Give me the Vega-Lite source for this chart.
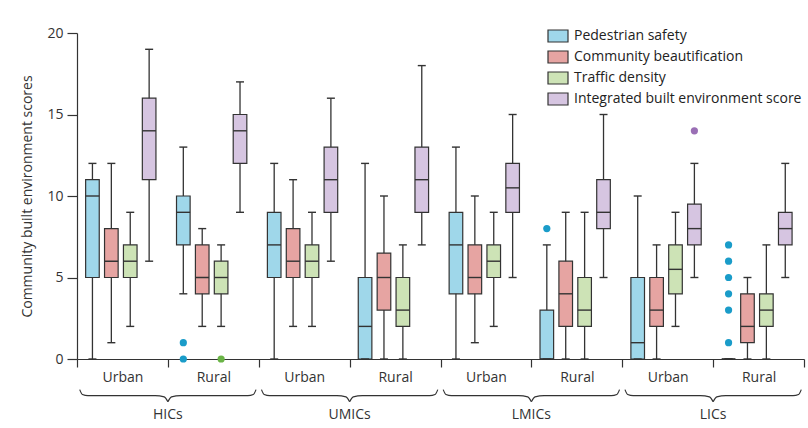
{
  "$schema": "https://vega.github.io/schema/vega-lite/v6.json",
  "width": 727,
  "height": 326,
  "autosize": {"type": "none"},
  "padding": {"left": 77, "top": 33, "right": 4, "bottom": 69},
  "background": "white",
  "config": {
    "font": "Open Sans",
    "view": {"stroke": null},
    "axis": {"grid": false, "domainColor": "#333333", "tickColor": "#333333", "labelColor": "#333333", "titleColor": "#333333", "labelFontSize": 14, "titleFontSize": 14, "titleFontWeight": "normal", "domainWidth": 1.2, "tickWidth": 1.2},
    "axisY": {"tickSize": 10, "labelPadding": 4, "titlePadding": 12},
    "axisX": {"tickSize": 8, "labelPadding": 3, "labelAngle": 0}
  },
  "datasets": {
    "boxes": [
      {"cat": "HICs|Urban", "m": "Pedestrian safety", "lo": 0, "q1": 5, "med": 10, "q3": 11, "hi": 12},
      {"cat": "HICs|Urban", "m": "Community beautification", "lo": 1, "q1": 5, "med": 6, "q3": 8, "hi": 12},
      {"cat": "HICs|Urban", "m": "Traffic density", "lo": 2, "q1": 5, "med": 6, "q3": 7, "hi": 9},
      {"cat": "HICs|Urban", "m": "Integrated built environment score", "lo": 6, "q1": 11, "med": 14, "q3": 16, "hi": 19},
      {"cat": "HICs|Rural", "m": "Pedestrian safety", "lo": 4, "q1": 7, "med": 9, "q3": 10, "hi": 13},
      {"cat": "HICs|Rural", "m": "Community beautification", "lo": 2, "q1": 4, "med": 5, "q3": 7, "hi": 8},
      {"cat": "HICs|Rural", "m": "Traffic density", "lo": 2, "q1": 4, "med": 5, "q3": 6, "hi": 7},
      {"cat": "HICs|Rural", "m": "Integrated built environment score", "lo": 9, "q1": 12, "med": 14, "q3": 15, "hi": 17},
      {"cat": "UMICs|Urban", "m": "Pedestrian safety", "lo": 0, "q1": 5, "med": 7, "q3": 9, "hi": 12},
      {"cat": "UMICs|Urban", "m": "Community beautification", "lo": 2, "q1": 5, "med": 6, "q3": 8, "hi": 11},
      {"cat": "UMICs|Urban", "m": "Traffic density", "lo": 2, "q1": 5, "med": 6, "q3": 7, "hi": 9},
      {"cat": "UMICs|Urban", "m": "Integrated built environment score", "lo": 6, "q1": 9, "med": 11, "q3": 13, "hi": 16},
      {"cat": "UMICs|Rural", "m": "Pedestrian safety", "lo": 0, "q1": 0, "med": 2, "q3": 5, "hi": 12},
      {"cat": "UMICs|Rural", "m": "Community beautification", "lo": 0, "q1": 3, "med": 5, "q3": 6.5, "hi": 10},
      {"cat": "UMICs|Rural", "m": "Traffic density", "lo": 0, "q1": 2, "med": 3, "q3": 5, "hi": 7},
      {"cat": "UMICs|Rural", "m": "Integrated built environment score", "lo": 7, "q1": 9, "med": 11, "q3": 13, "hi": 18},
      {"cat": "LMICs|Urban", "m": "Pedestrian safety", "lo": 0, "q1": 4, "med": 7, "q3": 9, "hi": 13},
      {"cat": "LMICs|Urban", "m": "Community beautification", "lo": 1, "q1": 4, "med": 5, "q3": 7, "hi": 10},
      {"cat": "LMICs|Urban", "m": "Traffic density", "lo": 2, "q1": 5, "med": 6, "q3": 7, "hi": 9},
      {"cat": "LMICs|Urban", "m": "Integrated built environment score", "lo": 5, "q1": 9, "med": 10.5, "q3": 12, "hi": 15},
      {"cat": "LMICs|Rural", "m": "Pedestrian safety", "lo": 0, "q1": 0, "med": 0, "q3": 3, "hi": 7},
      {"cat": "LMICs|Rural", "m": "Community beautification", "lo": 0, "q1": 2, "med": 4, "q3": 6, "hi": 9},
      {"cat": "LMICs|Rural", "m": "Traffic density", "lo": 0, "q1": 2, "med": 3, "q3": 5, "hi": 9},
      {"cat": "LMICs|Rural", "m": "Integrated built environment score", "lo": 5, "q1": 8, "med": 9, "q3": 11, "hi": 15},
      {"cat": "LICs|Urban", "m": "Pedestrian safety", "lo": 0, "q1": 0, "med": 1, "q3": 5, "hi": 10},
      {"cat": "LICs|Urban", "m": "Community beautification", "lo": 0, "q1": 2, "med": 3, "q3": 5, "hi": 7},
      {"cat": "LICs|Urban", "m": "Traffic density", "lo": 2, "q1": 4, "med": 5.5, "q3": 7, "hi": 9},
      {"cat": "LICs|Urban", "m": "Integrated built environment score", "lo": 5, "q1": 7, "med": 8, "q3": 9.5, "hi": 12},
      {"cat": "LICs|Rural", "m": "Pedestrian safety", "lo": 0, "q1": 0, "med": 0, "q3": 0, "hi": 0},
      {"cat": "LICs|Rural", "m": "Community beautification", "lo": 0, "q1": 1, "med": 2, "q3": 4, "hi": 5},
      {"cat": "LICs|Rural", "m": "Traffic density", "lo": 0, "q1": 2, "med": 3, "q3": 4, "hi": 7},
      {"cat": "LICs|Rural", "m": "Integrated built environment score", "lo": 5, "q1": 7, "med": 8, "q3": 9, "hi": 12}
    ],
    "outliers": [
      {"cat": "HICs|Rural", "m": "Pedestrian safety", "v": 0},
      {"cat": "HICs|Rural", "m": "Pedestrian safety", "v": 1},
      {"cat": "HICs|Rural", "m": "Traffic density", "v": 0},
      {"cat": "LMICs|Rural", "m": "Pedestrian safety", "v": 8},
      {"cat": "LICs|Urban", "m": "Integrated built environment score", "v": 14},
      {"cat": "LICs|Rural", "m": "Pedestrian safety", "v": 1},
      {"cat": "LICs|Rural", "m": "Pedestrian safety", "v": 3},
      {"cat": "LICs|Rural", "m": "Pedestrian safety", "v": 4},
      {"cat": "LICs|Rural", "m": "Pedestrian safety", "v": 5},
      {"cat": "LICs|Rural", "m": "Pedestrian safety", "v": 6},
      {"cat": "LICs|Rural", "m": "Pedestrian safety", "v": 7}
    ],
    "groups": [
      {"cat": "HICs|Urban", "inc": "HICs"},
      {"cat": "UMICs|Urban", "inc": "UMICs"},
      {"cat": "LMICs|Urban", "inc": "LMICs"},
      {"cat": "LICs|Urban", "inc": "LICs"}
    ],
    "braces": [
      {"part": "0L", "bx": 0.03, "by": -1.88}, {"part": "0L", "bx": 0.06, "by": -2.18}, {"part": "0L", "bx": 0.12, "by": -2.25}, {"part": "0L", "bx": 0.86, "by": -2.25}, {"part": "0L", "bx": 0.96, "by": -2.32}, {"part": "0L", "bx": 1.0, "by": -2.62},
      {"part": "0R", "bx": 1.0, "by": -2.62}, {"part": "0R", "bx": 1.04, "by": -2.32}, {"part": "0R", "bx": 1.14, "by": -2.25}, {"part": "0R", "bx": 1.88, "by": -2.25}, {"part": "0R", "bx": 1.94, "by": -2.18}, {"part": "0R", "bx": 1.97, "by": -1.88},
      {"part": "1L", "bx": 2.03, "by": -1.88}, {"part": "1L", "bx": 2.06, "by": -2.18}, {"part": "1L", "bx": 2.12, "by": -2.25}, {"part": "1L", "bx": 2.86, "by": -2.25}, {"part": "1L", "bx": 2.96, "by": -2.32}, {"part": "1L", "bx": 3.0, "by": -2.62},
      {"part": "1R", "bx": 3.0, "by": -2.62}, {"part": "1R", "bx": 3.04, "by": -2.32}, {"part": "1R", "bx": 3.14, "by": -2.25}, {"part": "1R", "bx": 3.88, "by": -2.25}, {"part": "1R", "bx": 3.94, "by": -2.18}, {"part": "1R", "bx": 3.97, "by": -1.88},
      {"part": "2L", "bx": 4.03, "by": -1.88}, {"part": "2L", "bx": 4.06, "by": -2.18}, {"part": "2L", "bx": 4.12, "by": -2.25}, {"part": "2L", "bx": 4.86, "by": -2.25}, {"part": "2L", "bx": 4.96, "by": -2.32}, {"part": "2L", "bx": 5.0, "by": -2.62},
      {"part": "2R", "bx": 5.0, "by": -2.62}, {"part": "2R", "bx": 5.04, "by": -2.32}, {"part": "2R", "bx": 5.14, "by": -2.25}, {"part": "2R", "bx": 5.88, "by": -2.25}, {"part": "2R", "bx": 5.94, "by": -2.18}, {"part": "2R", "bx": 5.97, "by": -1.88},
      {"part": "3L", "bx": 6.03, "by": -1.88}, {"part": "3L", "bx": 6.06, "by": -2.18}, {"part": "3L", "bx": 6.12, "by": -2.25}, {"part": "3L", "bx": 6.86, "by": -2.25}, {"part": "3L", "bx": 6.96, "by": -2.32}, {"part": "3L", "bx": 7.0, "by": -2.62},
      {"part": "3R", "bx": 7.0, "by": -2.62}, {"part": "3R", "bx": 7.04, "by": -2.32}, {"part": "3R", "bx": 7.14, "by": -2.25}, {"part": "3R", "bx": 7.88, "by": -2.25}, {"part": "3R", "bx": 7.94, "by": -2.18}, {"part": "3R", "bx": 7.97, "by": -1.88}
    ]
  },
  "layer": [
    {
      "layer": [
        {
          "encoding": {
            "x": {"field": "cat", "type": "nominal", "title": null,
                  "scale": {"domain": ["HICs|Urban", "HICs|Rural", "UMICs|Urban", "UMICs|Rural", "LMICs|Urban", "LMICs|Rural", "LICs|Urban", "LICs|Rural"], "paddingInner": 0, "paddingOuter": 0},
                  "axis": {"labelExpr": "split(datum.label, '|')[1]", "tickBand": "extent"}},
            "xOffset": {"field": "m", "type": "nominal",
                        "scale": {"domain": ["Pedestrian safety", "Community beautification", "Traffic density", "Integrated built environment score"], "paddingInner": 0.28, "paddingOuter": 0.544, "align": 0.42}}
          },
          "layer": [
            {
              "data": {"name": "boxes"},
              "mark": {"type": "rule", "color": "#333333", "strokeWidth": 1.3},
              "encoding": {
                "y": {"field": "lo", "type": "quantitative", "scale": {"domain": [0, 20], "nice": false, "zero": false}, "title": "Community built environment scores", "axis": {"values": [0, 5, 10, 15, 20]}},
                "y2": {"field": "hi"}
              }
            },
            {
              "data": {"name": "boxes"},
              "mark": {"type": "bar", "stroke": "#333333", "strokeWidth": 1.2},
              "encoding": {
                "y": {"field": "q1", "type": "quantitative", "scale": {"domain": [0, 20], "nice": false, "zero": false}, "title": "Community built environment scores", "axis": {"values": [0, 5, 10, 15, 20]}},
                "y2": {"field": "q3"},
                "fill": {"field": "m", "type": "nominal",
                         "scale": {"domain": ["Pedestrian safety", "Community beautification", "Traffic density", "Integrated built environment score"], "range": ["#9fd7ea", "#e6a4a2", "#cde3b6", "#d6c5e1"]},
                         "legend": {"title": null, "orient": "none", "legendX": 470, "legendY": -8, "padding": 0, "symbolType": "M-1,-0.6H1V0.6H-1Z", "symbolSize": 400, "symbolStrokeColor": "#333333", "symbolStrokeWidth": 1.2, "symbolOpacity": 1, "labelFontSize": 14, "labelColor": "#222222", "labelOffset": 5, "rowPadding": 1, "labelLimit": 400}}
              }
            },
            {
              "data": {"name": "boxes"},
              "mark": {"type": "tick", "color": "#333333", "thickness": 1.4, "size": 13.6, "opacity": 1},
              "encoding": {
                "y": {"field": "med", "type": "quantitative", "scale": {"domain": [0, 20], "nice": false, "zero": false}, "title": "Community built environment scores", "axis": {"values": [0, 5, 10, 15, 20]}}
              }
            },
            {
              "data": {"name": "boxes"},
              "mark": {"type": "tick", "color": "#333333", "thickness": 1.4, "size": 8, "opacity": 1},
              "encoding": {
                "y": {"field": "lo", "type": "quantitative", "scale": {"domain": [0, 20], "nice": false, "zero": false}, "title": "Community built environment scores", "axis": {"values": [0, 5, 10, 15, 20]}}
              }
            },
            {
              "data": {"name": "boxes"},
              "mark": {"type": "tick", "color": "#333333", "thickness": 1.4, "size": 8, "opacity": 1},
              "encoding": {
                "y": {"field": "hi", "type": "quantitative", "scale": {"domain": [0, 20], "nice": false, "zero": false}, "title": "Community built environment scores", "axis": {"values": [0, 5, 10, 15, 20]}}
              }
            },
            {
              "data": {"name": "outliers"},
              "mark": {"type": "point", "filled": true, "size": 52, "opacity": 1},
              "encoding": {
                "y": {"field": "v", "type": "quantitative", "scale": {"domain": [0, 20], "nice": false, "zero": false}, "title": "Community built environment scores", "axis": {"values": [0, 5, 10, 15, 20]}},
                "color": {"field": "m", "type": "nominal",
                          "scale": {"domain": ["Pedestrian safety", "Community beautification", "Traffic density", "Integrated built environment score"], "range": ["#1a9cc9", "#e07b78", "#6ab446", "#9a6fb5"]},
                          "legend": null}
              }
            }
          ]
        },
        {
          "data": {"name": "groups"},
          "mark": {"type": "text", "fontSize": 14, "color": "#333333", "baseline": "middle", "align": "center"},
          "encoding": {
            "x": {"field": "cat", "type": "nominal", "title": null, "bandPosition": 1,
                  "scale": {"domain": ["HICs|Urban", "HICs|Rural", "UMICs|Urban", "UMICs|Rural", "LMICs|Urban", "LMICs|Rural", "LICs|Urban", "LICs|Rural"], "paddingInner": 0, "paddingOuter": 0}},
            "y": {"datum": -3.44, "type": "quantitative", "scale": {"domain": [0, 20], "nice": false, "zero": false}, "title": "Community built environment scores", "axis": {"values": [0, 5, 10, 15, 20]}},
            "text": {"field": "inc"}
          }
        }
      ]
    },
    {
      "layer": [
        {
          "data": {"name": "braces"},
          "mark": {"type": "line", "color": "#333333", "strokeWidth": 1.2, "interpolate": "monotone"},
          "encoding": {
            "x": {"field": "bx", "type": "quantitative", "scale": {"domain": [0, 8], "nice": false, "zero": false}, "axis": null},
            "y": {"field": "by", "type": "quantitative", "scale": {"domain": [0, 20], "nice": false, "zero": false}, "title": "Community built environment scores", "axis": {"values": [0, 5, 10, 15, 20]}},
            "detail": {"field": "part"}
          }
        },
        {
          "mark": {"type": "rule", "color": "#d43f6c", "strokeWidth": 1.2},
          "encoding": {
            "x": {"datum": -0.77, "type": "quantitative", "scale": {"domain": [0, 8], "nice": false, "zero": false}, "axis": null},
            "x2": {"datum": 8.2},
            "y": {"datum": 21.17, "type": "quantitative", "scale": {"domain": [0, 20], "nice": false, "zero": false}, "title": "Community built environment scores", "axis": {"values": [0, 5, 10, 15, 20]}}
          }
        },
        {
          "mark": {"type": "rule", "color": "#d43f6c", "strokeWidth": 1.2},
          "encoding": {
            "x": {"datum": -0.77, "type": "quantitative", "scale": {"domain": [0, 8], "nice": false, "zero": false}, "axis": null},
            "y": {"datum": 21.17, "type": "quantitative", "scale": {"domain": [0, 20], "nice": false, "zero": false}, "title": "Community built environment scores", "axis": {"values": [0, 5, 10, 15, 20]}},
            "y2": {"datum": -4.5}
          }
        }
      ]
    }
  ],
  "resolve": {"scale": {"x": "independent"}}
}
